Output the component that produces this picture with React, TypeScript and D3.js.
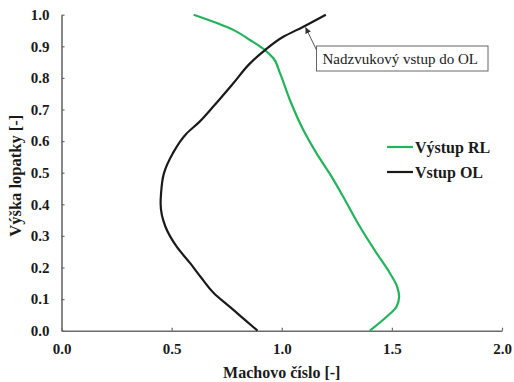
import React, { useEffect, useRef } from 'react';
import * as d3 from 'd3';

type Pt = [number, number]; // [Mach, height]

// Výstup RL (green)
const vystupRL: Pt[] = [
  [1.40, 0.0], [1.476, 0.044], [1.521, 0.076], [1.533, 0.108], [1.524, 0.139],
  [1.491, 0.182], [1.431, 0.245], [1.355, 0.329], [1.279, 0.424], [1.215, 0.5],
  [1.158, 0.561], [1.098, 0.635], [1.037, 0.73], [0.992, 0.815], [0.962, 0.862],
  [0.924, 0.888], [0.856, 0.92], [0.78, 0.952], [0.6, 1.0],
];

// Vstup OL (black)
const vstupOL: Pt[] = [
  [0.89, 0.0], [0.77, 0.072], [0.69, 0.12], [0.632, 0.17], [0.585, 0.213],
  [0.523, 0.266], [0.472, 0.329], [0.45, 0.403], [0.452, 0.435], [0.465, 0.498],
  [0.505, 0.561], [0.565, 0.622], [0.625, 0.66], [0.69, 0.71], [0.78, 0.783],
  [0.856, 0.846], [0.924, 0.888], [1.007, 0.93], [1.098, 0.962], [1.2, 1.0],
];

const xTicks = [0, 0.5, 1.0, 1.5, 2.0];
const yTicks = [0, 0.1, 0.2, 0.3, 0.4, 0.5, 0.6, 0.7, 0.8, 0.9, 1.0];

const series = [
  { name: 'Výstup RL', color: '#22b35b', data: vystupRL },
  { name: 'Vstup OL', color: '#1a1a1a', data: vstupOL },
];

const annotationText = 'Nadzvukový vstup do OL';
const annotationTarget: Pt = [1.108, 0.96];

const W = 514;
const H = 382;
const FONT = '"Liberation Serif", "Times New Roman", serif';

const App: React.FC = () => {
  const ref = useRef<SVGSVGElement>(null);

  useEffect(() => {
    if (!ref.current) return;
    const svg = d3.select(ref.current);
    svg.selectAll('*').remove();

    const x = d3.scaleLinear().domain([0, 2]).range([61.5, 502]);
    const y = d3.scaleLinear().domain([0, 1]).range([330.7, 14.7]);
    const axisColor = '#6b6b6b';

    // x axis
    const gx = svg
      .append('g')
      .attr('transform', `translate(0,${y(0)})`)
      .call(
        d3
          .axisBottom(x)
          .tickValues(xTicks)
          .tickSizeInner(-3)
          .tickSizeOuter(0)
          .tickPadding(13)
          .tickFormat(d => d3.format('.1f')(d as number)),
      );

    // y axis
    const gy = svg
      .append('g')
      .attr('transform', `translate(${x(0)},0)`)
      .call(
        d3
          .axisLeft(y)
          .tickValues(yTicks)
          .tickSizeInner(-3)
          .tickSizeOuter(0)
          .tickPadding(12)
          .tickFormat(d => d3.format('.1f')(d as number)),
      );

    [gx, gy].forEach(g => {
      g.select('.domain').attr('stroke', axisColor).attr('stroke-width', 1.6);
      g.selectAll('.tick line').attr('stroke', axisColor).attr('stroke-width', 1.2);
      g.selectAll('.tick text')
        .attr('fill', '#1a1a1a')
        .attr('font-family', FONT)
        .attr('font-weight', 'bold')
        .attr('font-size', 15);
    });

    // lines (height is the independent variable)
    const line = d3
      .line<Pt>()
      .x(d => x(d[0]))
      .y(d => y(d[1]))
      .curve(d3.curveMonotoneY);

    series.forEach(s => {
      svg
        .append('path')
        .datum(s.data)
        .attr('fill', 'none')
        .attr('stroke', s.color)
        .attr('stroke-width', 2.2)
        .attr('d', line);
    });

    // axis titles
    svg
      .append('text')
      .attr('x', (x(0) + x(2)) / 2)
      .attr('y', 378)
      .attr('text-anchor', 'middle')
      .attr('font-family', FONT)
      .attr('font-weight', 'bold')
      .attr('font-size', 16)
      .attr('fill', '#1a1a1a')
      .text('Machovo číslo [-]');

    svg
      .append('text')
      .attr('transform', `translate(21,${(y(0) + y(1)) / 2 + 3}) rotate(-90)`)
      .attr('text-anchor', 'middle')
      .attr('font-family', FONT)
      .attr('font-weight', 'bold')
      .attr('font-size', 16.5)
      .attr('fill', '#1a1a1a')
      .text('Výška lopatky [-]');

    // legend
    const legend = svg.append('g').attr('transform', 'translate(387,147)');
    series.forEach((s, i) => {
      const row = legend.append('g').attr('transform', `translate(0,${i * 25})`);
      row
        .append('line')
        .attr('x1', 0)
        .attr('x2', 26)
        .attr('stroke', s.color)
        .attr('stroke-width', 2.2);
      row
        .append('text')
        .attr('x', 28)
        .attr('y', 5.5)
        .attr('font-family', FONT)
        .attr('font-weight', 'bold')
        .attr('font-size', 16)
        .attr('fill', '#1a1a1a')
        .text(s.name);
    });

    // annotation
    const defs = svg.append('defs');
    defs
      .append('marker')
      .attr('id', 'arrow')
      .attr('viewBox', '0 0 10 10')
      .attr('refX', 10)
      .attr('refY', 5)
      .attr('markerWidth', 6)
      .attr('markerHeight', 6)
      .attr('orient', 'auto')
      .append('path')
      .attr('d', 'M0,0L10,5L0,10Z')
      .attr('fill', '#333');

    const box = { x: 316.5, y: 46, w: 171.5, h: 25 };
    svg
      .append('line')
      .attr('x1', box.x)
      .attr('y1', box.y + 4)
      .attr('x2', x(annotationTarget[0]))
      .attr('y2', y(annotationTarget[1]))
      .attr('stroke', '#555')
      .attr('stroke-width', 1)
      .attr('marker-end', 'url(#arrow)');

    svg
      .append('rect')
      .attr('x', box.x)
      .attr('y', box.y)
      .attr('width', box.w)
      .attr('height', box.h)
      .attr('fill', '#fff')
      .attr('stroke', '#666')
      .attr('stroke-width', 1);

    svg
      .append('text')
      .attr('x', box.x + 6)
      .attr('y', box.y + 18)
      .attr('font-family', FONT)
      .attr('font-size', 15)
      .attr('fill', '#1a1a1a')
      .text(annotationText);
  }, []);

  return (
    <svg
      ref={ref}
      width={W}
      height={H}
      style={{ position: 'absolute', left: 0, top: 0, background: '#fff' }}
    />
  );
};

export default App;
